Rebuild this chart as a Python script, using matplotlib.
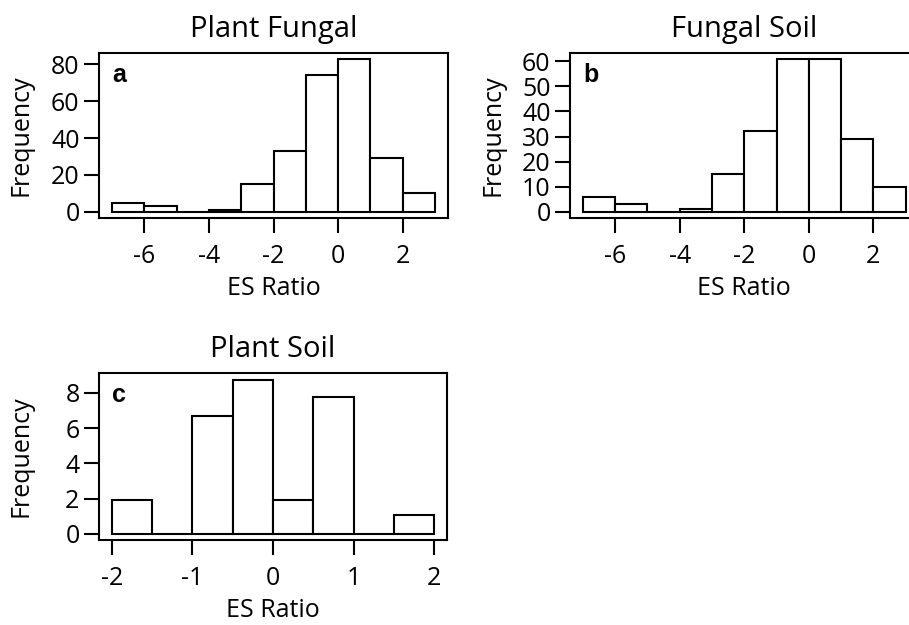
import matplotlib
matplotlib.use('Agg')
import matplotlib.pyplot as plt

# bin edges and counts
pf_edges = [-7, -6, -5, -4, -3, -2, -1, 0, 1, 2, 3]
pf_counts = [5, 3, 0, 1, 15, 33, 74, 83, 29, 10]

fs_edges = [-7, -6, -5, -4, -3, -2, -1, 0, 1, 2, 3]
fs_counts = [6, 3, 0, 1, 15, 32, 61, 61, 29, 10]

ps_edges = [-2, -1.5, -1, -0.5, 0, 0.5, 1, 1.5, 2]
ps_counts = [1.9, 0, 6.7, 8.7, 1.9, 7.75, 0, 1.05]

pf_yticks = [0, 20, 40, 60, 80]
fs_yticks = [0, 10, 20, 30, 40, 50, 60]
ps_yticks = [0, 2, 4, 6, 8]
pf_xticks = [-6, -4, -2, 0, 2]
ps_xticks = [-2, -1, 0, 1, 2]

plt.rcParams['font.family'] = ['Open Sans', 'DejaVu Sans']

fig = plt.figure(figsize=(9.09, 6.25), dpi=100)
W, H = 909, 625


def px_axes(left, top, right, bottom):
    return fig.add_axes([left / W, 1 - bottom / H, (right - left) / W, (bottom - top) / H])


def r_range(lo, hi):
    pad = (hi - lo) * 0.04
    return lo - pad, hi + pad


def draw_hist(ax, edges, counts, title, letter, xticks, yticks, ylim, box, ylab_x):
    left, top, right, bottom = box
    width, height = right - left, bottom - top
    widths = [edges[i + 1] - edges[i] for i in range(len(counts))]
    ax.bar(edges[:-1], counts, width=widths, align='edge',
           facecolor='white', edgecolor='black', linewidth=1.5)
    ax.set_xlim(*r_range(edges[0], edges[-1]))
    ax.set_ylim(*ylim)
    ax.set_xticks(xticks)
    ax.set_yticks(yticks)
    ax.set_xticklabels([str(t) for t in xticks])
    ax.set_title(title, fontsize=21, pad=11.5)
    ax.set_xlabel('ES Ratio', fontsize=18)
    ax.set_ylabel('Frequency', fontsize=18)
    # R puts axis titles at fixed lines from the box
    ax.xaxis.set_label_coords(0.5, -58 / height)
    ax.yaxis.set_label_coords((ylab_x - left) / width, 0.5)
    ax.tick_params(direction='out', length=11, width=1.5, labelsize=18)
    ax.tick_params(axis='x', pad=8)
    ax.tick_params(axis='y', pad=3)
    for s in ax.spines.values():
        s.set_linewidth(1.5)
    ax.text(13 / width, 0.935, letter, transform=ax.transAxes, fontsize=18,
            fontweight='bold', va='top', ha='left', family='Liberation Sans')


box_a = (99, 52.5, 448, 218)
ax_a = px_axes(*box_a)
draw_hist(ax_a, pf_edges, pf_counts, 'Plant Fungal', 'a', pf_xticks, pf_yticks,
          r_range(0, max(pf_counts)), box_a, 34)

box_b = (570, 52.5, 918.5, 218)
ax_b = px_axes(*box_b)
draw_hist(ax_b, fs_edges, fs_counts, 'Fungal Soil', 'b', pf_xticks, fs_yticks,
          r_range(0, max(fs_counts)), box_b, 506)

box_c = (99, 372.5, 447, 540)
ax_c = px_axes(*box_c)
draw_hist(ax_c, ps_edges, ps_counts, 'Plant Soil', 'c', ps_xticks, ps_yticks,
          r_range(0, 8.8), box_c, 34)

fig.savefig('out.png', dpi=100)
